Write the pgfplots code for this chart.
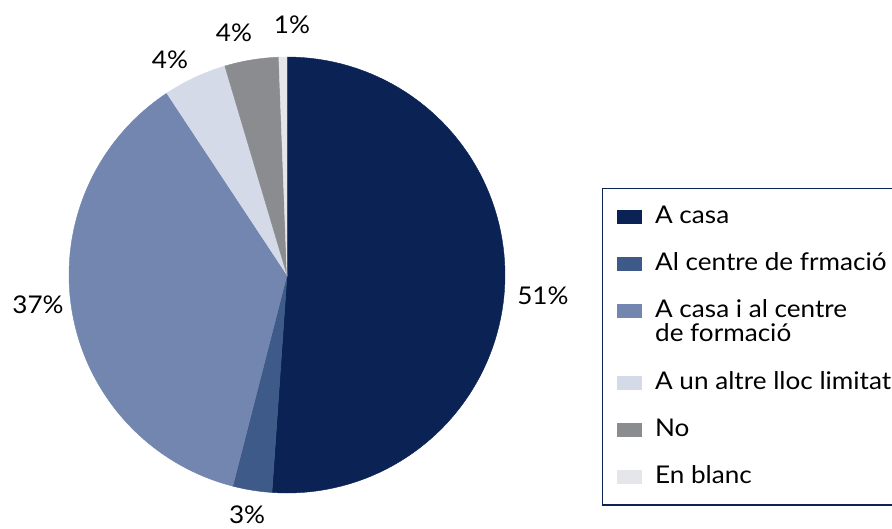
\documentclass[border=0pt]{standalone}
\usepackage{fontspec}
\setmainfont{Lato}[FakeStretch=1.07]
\usepackage{pgfplots}
\pgfplotsset{compat=1.18}

\definecolor{c1}{HTML}{0B2255}
\definecolor{c2}{HTML}{3E5A88}
\definecolor{c3}{HTML}{7286AF}
\definecolor{c4}{HTML}{D4DAE7}
\definecolor{c5}{HTML}{8B8C90}
\definecolor{c6}{HTML}{E5E6EA}
\newcommand\lfont{\fontsize{18.3}{16}\selectfont}

\begin{document}
\begin{tikzpicture}
\begin{axis}[
    x=163.5pt, y=163.5pt,
    xmin=-1.3165, xmax=2.7752,
    ymin=-1.1606, ymax=1.2615,
    enlargelimits=false,
    hide axis,
    clip=false,
    samples=90,
    legend image code/.code={\fill[#1] (0pt,0.5pt) rectangle (18pt,10pt);},
    legend style={
        at={(axis cs:1.445,0.399)}, anchor=north west,
        draw=c1, line width=1.1pt,
        inner xsep=11pt, inner ysep=12pt,
        row sep=17.25pt, column sep=10pt,
        font=\lfont,
        cells={anchor=base west},
        nodes={inner sep=0pt, text height=14pt, text depth=4pt},
    },
]
% percentages, clockwise from the top: 51.1, 2.9, 36.7, 4.7, 4.0, 0.6
\addplot[fill=c1, draw=c1, line width=0.3pt, domain=0:51.1] ({cos(90-3.6*x)},{sin(90-3.6*x)}) -- (0,0) -- cycle;
\addlegendentry{A casa}
\addplot[fill=c2, draw=c2, line width=0.3pt, domain=51.1:54.0] ({cos(90-3.6*x)},{sin(90-3.6*x)}) -- (0,0) -- cycle;
\addlegendentry{Al centre de frmació}
\addplot[fill=c3, draw=c3, line width=0.3pt, domain=54.0:90.7] ({cos(90-3.6*x)},{sin(90-3.6*x)}) -- (0,0) -- cycle;
\addlegendentry[text depth=23pt]{\begin{tabular}[t]{@{}l@{}}A casa i al centre\\de formació\end{tabular}}
\addplot[fill=c4, draw=c4, line width=0.3pt, domain=90.7:95.4] ({cos(90-3.6*x)},{sin(90-3.6*x)}) -- (0,0) -- cycle;
\addlegendentry{A un altre lloc limitat}
\addplot[fill=c5, draw=c5, line width=0.3pt, domain=95.4:99.4] ({cos(90-3.6*x)},{sin(90-3.6*x)}) -- (0,0) -- cycle;
\addlegendentry{No}
\addplot[fill=c6, draw=c6, line width=0.3pt, domain=99.4:100] ({cos(90-3.6*x)},{sin(90-3.6*x)}) -- (0,0) -- cycle;
\addlegendentry{En blanc}

\node[font=\lfont, inner sep=0pt] at (axis cs:1.174,-0.096) {51\%};
\node[font=\lfont, inner sep=0pt] at (axis cs:-0.183,-1.101) {3\%};
\node[font=\lfont, inner sep=0pt] at (axis cs:-1.142,-0.138) {37\%};
\node[font=\lfont, inner sep=0pt] at (axis cs:-0.537,0.986) {4\%};
\node[font=\lfont, inner sep=0pt] at (axis cs:-0.243,1.110) {4\%};
\node[font=\lfont, inner sep=0pt] at (axis cs:0.023,1.147) {1\%};
\end{axis}
\pgfresetboundingbox
\path[use as bounding box] (current axis.south west) rectangle (current axis.north east);
\end{tikzpicture}
\end{document}
